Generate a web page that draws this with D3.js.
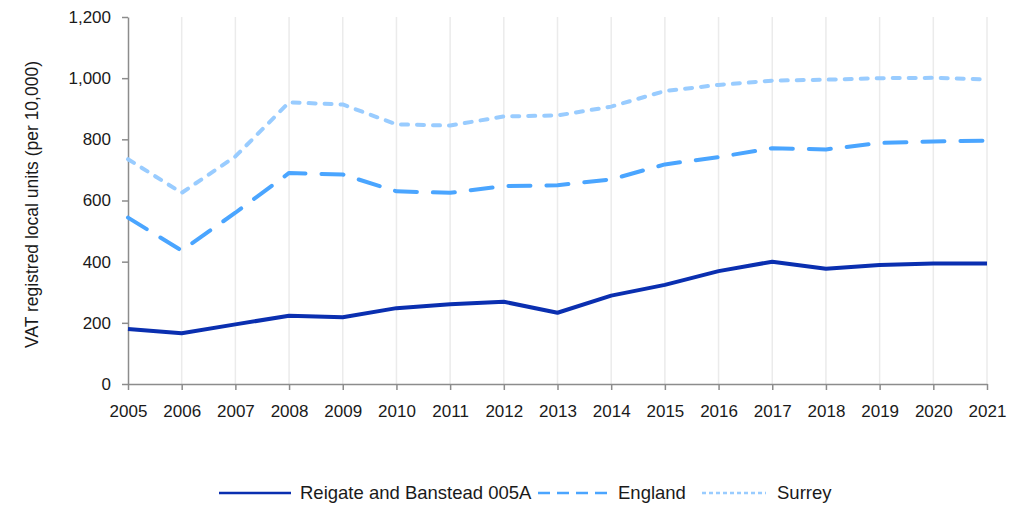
<!DOCTYPE html>
<html>
<head>
<meta charset="utf-8">
<script src="https://cdn.jsdelivr.net/npm/d3@7"></script>
<style>
  body { margin: 0; background: #fff; }
  svg { display: block; font-family: "Liberation Sans", Arial, sans-serif; }
</style>
</head>
<body>
<div id="chart"></div>
<script>
var years = [2005, 2006, 2007, 2008, 2009, 2010, 2011, 2012, 2013, 2014, 2015, 2016, 2017, 2018, 2019, 2020, 2021];
var reigate = [180, 166, 195, 223, 218, 248, 261, 269, 233, 289, 324, 369, 400, 377, 389, 394, 394];
var england = [544, 436, 560, 690, 685, 630, 625, 647, 650, 669, 718, 742, 771, 767, 788, 793, 796];
var surrey = [735, 625, 744, 921, 914, 849, 845, 875, 878, 907, 958, 978, 992, 995, 1000, 1001, 996];
var yTicks = [0, 200, 400, 600, 800, 1000, 1200];
var seriesNames = ["Reigate and Banstead 005A", "England", "Surrey"];

var width = 1023, height = 505;
var margin = { left: 128, right: 36, top: 17, bottom: 121 };

var svg = d3.select("#chart").append("svg")
  .attr("width", width)
  .attr("height", height);

var x = d3.scaleLinear()
  .domain([2005, 2021])
  .range([margin.left, width - margin.right]);

var y = d3.scaleLinear()
  .domain([0, 1200])
  .range([height - margin.bottom, margin.top]);

// vertical gridlines
svg.append("g")
  .selectAll("line")
  .data(years.slice(1))
  .join("line")
  .attr("x1", function(d) { return x(d); })
  .attr("x2", function(d) { return x(d); })
  .attr("y1", y(1200))
  .attr("y2", y(0))
  .attr("stroke", "#ebebeb")
  .attr("stroke-width", 1.5);

// axes
var xAxis = svg.append("g")
  .attr("transform", "translate(0," + y(0) + ")")
  .call(d3.axisBottom(x).tickValues(years).tickFormat(d3.format("d")).tickSize(6).tickSizeOuter(0));

var yAxis = svg.append("g")
  .attr("transform", "translate(" + margin.left + ",0)")
  .call(d3.axisLeft(y).tickValues(yTicks).tickFormat(d3.format(",")).tickSize(6).tickSizeOuter(0));

[xAxis, yAxis].forEach(function(ax) {
  ax.selectAll("path, line").attr("stroke", "#8c8c8c").attr("stroke-width", 1.5);
  ax.selectAll("text").attr("fill", "#1a1a1a").style("font-size", "17px");
});
xAxis.selectAll("text").attr("y", 21).attr("dy", "0.71em");
yAxis.selectAll("text").attr("x", -17);

svg.append("text")
  .attr("transform", "translate(38," + (y(600) + 4) + ") rotate(-90)")
  .attr("text-anchor", "middle")
  .attr("fill", "#1a1a1a")
  .style("font-size", "17.5px")
  .text("VAT registred local units (per 10,000)");

var styles = [
  { color: "#0a2fb0", dash: null, legendDash: null },
  { color: "#4aa5ff", dash: "22,16", legendDash: "12,7" },
  { color: "#99ccff", dash: "7,9", legendDash: "4,3" }
];
var allSeries = [reigate, england, surrey];

var line = d3.line()
  .x(function(d, i) { return x(years[i]); })
  .y(function(d) { return y(d); });

// draw back to front so the solid line sits on top
[2, 1, 0].forEach(function(k) {
  svg.append("path")
    .datum(allSeries[k])
    .attr("fill", "none")
    .attr("stroke", styles[k].color)
    .attr("stroke-width", 4)
    .attr("stroke-linecap", k === 0 ? "butt" : "round")
    .attr("stroke-linejoin", "round")
    .attr("stroke-dasharray", styles[k].dash)
    .attr("d", line);
});

// legend
var legendItems = [
  { x1: 219, x2: 291, tx: 300 },
  { x1: 538, x2: 610, tx: 618 },
  { x1: 702, x2: 766, tx: 777 }
];
var legend = svg.append("g");
seriesNames.forEach(function(name, k) {
  var it = legendItems[k];
  legend.append("line")
    .attr("x1", it.x1).attr("x2", it.x2)
    .attr("y1", 493).attr("y2", 493)
    .attr("stroke", styles[k].color)
    .attr("stroke-width", 2.5)
    .attr("stroke-dasharray", styles[k].legendDash);
  legend.append("text")
    .attr("x", it.tx)
    .attr("y", 493)
    .attr("dy", "0.35em")
    .attr("fill", "#1a1a1a")
    .style("font-size", "18.5px")
    .text(name);
});
</script>
</body>
</html>
